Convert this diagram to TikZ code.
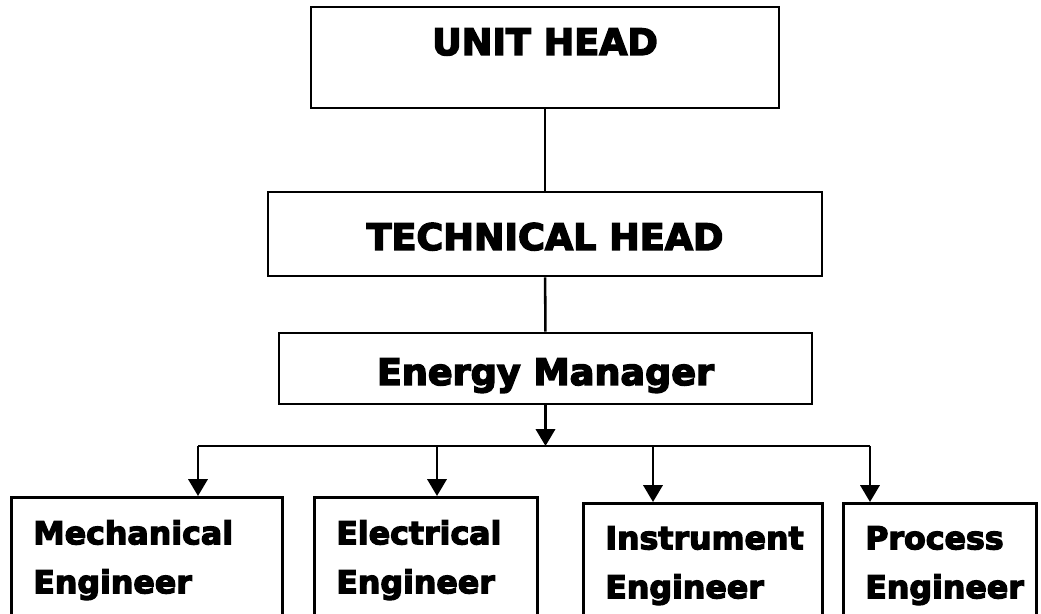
\documentclass[tikz,border=0pt]{standalone}
\usepackage{fontspec}
\setmainfont{DejaVu Sans}
\newfontfamily\blackfont{DejaVu Sans}[UprightFont=* Bold, FakeBold=4]
\usetikzlibrary{arrows.meta}

\begin{document}
\begin{tikzpicture}[
  orgbox/.style={draw, line width=1.8pt, inner sep=0pt},
  headtxt/.style={font=\fontsize{26}{30}\selectfont\blackfont},
  engtxt/.style={align=left, anchor=north west, inner xsep=0.55cm, font=\fontsize{22.5}{34.85}\selectfont\blackfont},
  link/.style={line width=1.8pt},
  arr/.style={line width=1.8pt, -{Triangle[length=0.42cm,width=0.48cm]}}
]
\useasboundingbox (0,0) rectangle (26.025,15.35);
\clip (0,0) rectangle (26.025,15.35);
%% heads
\node[orgbox, headtxt, anchor=base, minimum width=11.7cm, text height=1.2cm, text depth=1.325cm] (unit) at (13.625,13.975) {UNIT HEAD};
\node[orgbox, headtxt, anchor=base, minimum width=13.85cm, text height=1.45cm, text depth=0.65cm] (tech) at (13.625,9.1) {TECHNICAL HEAD};
\node[orgbox, headtxt, anchor=base, minimum width=13.325cm, text height=1.3cm, text depth=0.475cm] (em) at (13.6375,5.725) {Energy Manager};
\draw[link] (unit) -- (tech);
\draw[link] (tech) -- (em);
%% engineers
\node[orgbox, engtxt, text width=5.675cm, text height=1.175cm, text depth=2.275cm] (mech) at (0.25,2.95) {Mechanical\\Engineer};
\node[orgbox, engtxt, text width=4.475cm, text height=1.175cm, text depth=2.275cm] (elec) at (7.825,2.95) {Electrical\\Engineer};
\node[orgbox, engtxt, text width=4.875cm, text height=1.15cm, text depth=2.15cm] (inst) at (14.55,2.8) {Instrument\\Engineer};
\node[orgbox, engtxt, text width=3.725cm, text height=1.15cm, text depth=2.15cm] (proc) at (21.05,2.8) {Process\\Engineer};
%% distribution line
\coordinate (b1) at (4.95,4.2);
\coordinate (b2) at (10.925,4.2);
\coordinate (b3) at (16.325,4.2);
\coordinate (b4) at (21.75,4.2);
\draw[arr] (em.south) -- (em.south |- b1);
\draw[link] (b1) -- (b4);
\foreach \b/\n in {b1/mech, b2/elec, b3/inst, b4/proc}
  \draw[arr] (\b) -- (\b |- \n.north);
\end{tikzpicture}
\end{document}
